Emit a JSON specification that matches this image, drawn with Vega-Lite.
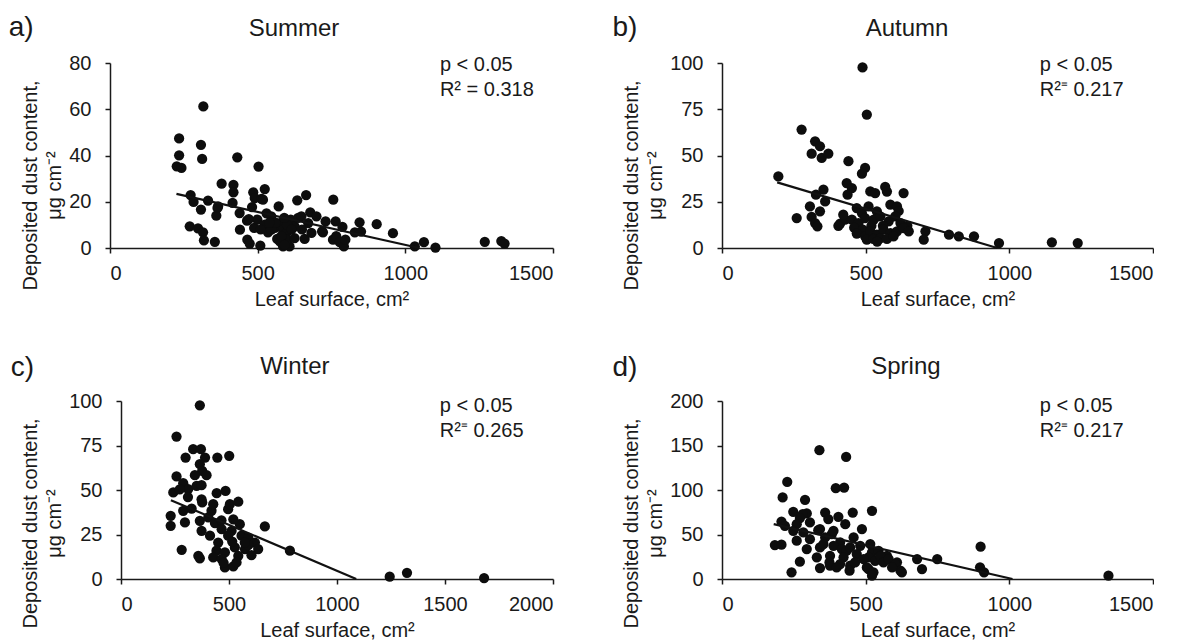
{
  "$schema": "https://vega.github.io/schema/vega-lite/v6.json",
  "background": "white",
  "padding": {"left": 8, "top": 14, "right": 0, "bottom": 0},
  "config": {
    "font": "Liberation Sans",
    "view": {"stroke": null},
    "axis": {
      "grid": false,
      "format": "d",
      "domainColor": "#1a1a1a",
      "domainWidth": 1.5,
      "tickColor": "#1a1a1a",
      "tickWidth": 1.5,
      "tickSize": 5,
      "labelFontSize": 20,
      "labelColor": "#1a1a1a",
      "labelFont": "Liberation Sans",
      "titleFont": "Liberation Sans",
      "titleFontSize": 20,
      "titleFontWeight": "normal",
      "titleColor": "#1a1a1a",
      "titleLineHeight": 24.5
    },
    "axisX": {"labelPadding": 10, "titlePadding": 6},
    "axisY": {"labelPadding": 14, "titlePadding": 4, "titleY": 122},
    "text": {"color": "#1a1a1a", "font": "Liberation Sans"}
  },
  "datasets": {
    "points": [
      {"season": "Summer", "leaf": 316, "dust": 61.2}, {"season": "Summer", "leaf": 234, "dust": 47.4}, {"season": "Summer", "leaf": 234, "dust": 40.1},
      {"season": "Summer", "leaf": 226, "dust": 35.3}, {"season": "Summer", "leaf": 242, "dust": 34.6}, {"season": "Summer", "leaf": 308, "dust": 44.6},
      {"season": "Summer", "leaf": 312, "dust": 38.5}, {"season": "Summer", "leaf": 431, "dust": 39.2}, {"season": "Summer", "leaf": 503, "dust": 35.2},
      {"season": "Summer", "leaf": 378, "dust": 27.8}, {"season": "Summer", "leaf": 418, "dust": 27.3}, {"season": "Summer", "leaf": 418, "dust": 24.1},
      {"season": "Summer", "leaf": 485, "dust": 24.1}, {"season": "Summer", "leaf": 524, "dust": 25.5}, {"season": "Summer", "leaf": 490, "dust": 21.6},
      {"season": "Summer", "leaf": 664, "dust": 22.9}, {"season": "Summer", "leaf": 756, "dust": 20.9}, {"season": "Summer", "leaf": 634, "dust": 20.6},
      {"season": "Summer", "leaf": 273, "dust": 22.9}, {"season": "Summer", "leaf": 283, "dust": 19.9}, {"season": "Summer", "leaf": 332, "dust": 20.5},
      {"season": "Summer", "leaf": 308, "dust": 16.6}, {"season": "Summer", "leaf": 360, "dust": 14.0}, {"season": "Summer", "leaf": 364, "dust": 17.3},
      {"season": "Summer", "leaf": 415, "dust": 19.5}, {"season": "Summer", "leaf": 439, "dust": 15.1}, {"season": "Summer", "leaf": 464, "dust": 11.8},
      {"season": "Summer", "leaf": 481, "dust": 17.7}, {"season": "Summer", "leaf": 513, "dust": 21.2}, {"season": "Summer", "leaf": 518, "dust": 20.9},
      {"season": "Summer", "leaf": 571, "dust": 18.0}, {"season": "Summer", "leaf": 546, "dust": 13.7}, {"season": "Summer", "leaf": 678, "dust": 15.4},
      {"season": "Summer", "leaf": 699, "dust": 13.7}, {"season": "Summer", "leaf": 730, "dust": 11.5}, {"season": "Summer", "leaf": 764, "dust": 11.5},
      {"season": "Summer", "leaf": 787, "dust": 9.1}, {"season": "Summer", "leaf": 845, "dust": 11.1}, {"season": "Summer", "leaf": 903, "dust": 10.3},
      {"season": "Summer", "leaf": 958, "dust": 6.4}, {"season": "Summer", "leaf": 829, "dust": 6.8}, {"season": "Summer", "leaf": 850, "dust": 7.1},
      {"season": "Summer", "leaf": 270, "dust": 9.4}, {"season": "Summer", "leaf": 298, "dust": 8.5}, {"season": "Summer", "leaf": 315, "dust": 6.8},
      {"season": "Summer", "leaf": 318, "dust": 3.3}, {"season": "Summer", "leaf": 355, "dust": 2.7}, {"season": "Summer", "leaf": 440, "dust": 7.9},
      {"season": "Summer", "leaf": 465, "dust": 3.6}, {"season": "Summer", "leaf": 473, "dust": 1.9}, {"season": "Summer", "leaf": 509, "dust": 1.0},
      {"season": "Summer", "leaf": 488, "dust": 8.7}, {"season": "Summer", "leaf": 499, "dust": 12.3}, {"season": "Summer", "leaf": 524, "dust": 10.1},
      {"season": "Summer", "leaf": 535, "dust": 6.8}, {"season": "Summer", "leaf": 558, "dust": 8.7}, {"season": "Summer", "leaf": 575, "dust": 10.8},
      {"season": "Summer", "leaf": 586, "dust": 7.9}, {"season": "Summer", "leaf": 597, "dust": 6.5}, {"season": "Summer", "leaf": 612, "dust": 12.3},
      {"season": "Summer", "leaf": 625, "dust": 9.4}, {"season": "Summer", "leaf": 637, "dust": 13.0}, {"season": "Summer", "leaf": 575, "dust": 2.9},
      {"season": "Summer", "leaf": 586, "dust": 0.7}, {"season": "Summer", "leaf": 608, "dust": 0.7}, {"season": "Summer", "leaf": 597, "dust": 3.6},
      {"season": "Summer", "leaf": 625, "dust": 4.3}, {"season": "Summer", "leaf": 659, "dust": 3.9}, {"season": "Summer", "leaf": 682, "dust": 6.5},
      {"season": "Summer", "leaf": 671, "dust": 10.8}, {"season": "Summer", "leaf": 721, "dust": 6.8}, {"season": "Summer", "leaf": 755, "dust": 3.6},
      {"season": "Summer", "leaf": 766, "dust": 5.1}, {"season": "Summer", "leaf": 778, "dust": 2.5}, {"season": "Summer", "leaf": 792, "dust": 0.7},
      {"season": "Summer", "leaf": 797, "dust": 3.6}, {"season": "Summer", "leaf": 1032, "dust": 0.7}, {"season": "Summer", "leaf": 1063, "dust": 2.5},
      {"season": "Summer", "leaf": 1102, "dust": 0.2}, {"season": "Summer", "leaf": 1269, "dust": 2.7}, {"season": "Summer", "leaf": 1325, "dust": 3.0},
      {"season": "Summer", "leaf": 1336, "dust": 1.9}, {"season": "Summer", "leaf": 546, "dust": 7.9}, {"season": "Summer", "leaf": 566, "dust": 3.9},
      {"season": "Summer", "leaf": 648, "dust": 13.7}, {"season": "Summer", "leaf": 366, "dust": 18.0}, {"season": "Summer", "leaf": 580, "dust": 5.1},
      {"season": "Summer", "leaf": 591, "dust": 1.4}, {"season": "Summer", "leaf": 718, "dust": 7.2}, {"season": "Summer", "leaf": 530, "dust": 15.0},
      {"season": "Summer", "leaf": 560, "dust": 11.0}, {"season": "Summer", "leaf": 600, "dust": 10.0}, {"season": "Summer", "leaf": 615, "dust": 8.0},
      {"season": "Summer", "leaf": 650, "dust": 8.0}, {"season": "Summer", "leaf": 590, "dust": 13.0}, {"season": "Summer", "leaf": 540, "dust": 11.0},
      {"season": "Summer", "leaf": 510, "dust": 8.0}, {"season": "Summer", "leaf": 470, "dust": 12.5},

      {"season": "Autumn", "leaf": 489, "dust": 97.6}, {"season": "Autumn", "leaf": 504, "dust": 72.1}, {"season": "Autumn", "leaf": 277, "dust": 64.0},
      {"season": "Autumn", "leaf": 324, "dust": 57.7}, {"season": "Autumn", "leaf": 341, "dust": 55.0}, {"season": "Autumn", "leaf": 312, "dust": 51.0},
      {"season": "Autumn", "leaf": 347, "dust": 48.7}, {"season": "Autumn", "leaf": 370, "dust": 51.0}, {"season": "Autumn", "leaf": 440, "dust": 46.9},
      {"season": "Autumn", "leaf": 498, "dust": 43.3}, {"season": "Autumn", "leaf": 487, "dust": 40.2}, {"season": "Autumn", "leaf": 196, "dust": 38.7},
      {"season": "Autumn", "leaf": 434, "dust": 35.1}, {"season": "Autumn", "leaf": 452, "dust": 32.4}, {"season": "Autumn", "leaf": 353, "dust": 31.5},
      {"season": "Autumn", "leaf": 327, "dust": 28.8}, {"season": "Autumn", "leaf": 437, "dust": 28.8}, {"season": "Autumn", "leaf": 516, "dust": 30.6},
      {"season": "Autumn", "leaf": 533, "dust": 29.7}, {"season": "Autumn", "leaf": 568, "dust": 33.0}, {"season": "Autumn", "leaf": 574, "dust": 30.5},
      {"season": "Autumn", "leaf": 632, "dust": 29.7}, {"season": "Autumn", "leaf": 359, "dust": 25.2}, {"season": "Autumn", "leaf": 306, "dust": 22.5},
      {"season": "Autumn", "leaf": 341, "dust": 19.8}, {"season": "Autumn", "leaf": 312, "dust": 16.8}, {"season": "Autumn", "leaf": 324, "dust": 13.5},
      {"season": "Autumn", "leaf": 332, "dust": 11.7}, {"season": "Autumn", "leaf": 260, "dust": 16.2}, {"season": "Autumn", "leaf": 411, "dust": 13.2},
      {"season": "Autumn", "leaf": 428, "dust": 15.3}, {"season": "Autumn", "leaf": 422, "dust": 18.0}, {"season": "Autumn", "leaf": 405, "dust": 12.0},
      {"season": "Autumn", "leaf": 469, "dust": 21.6}, {"season": "Autumn", "leaf": 487, "dust": 18.9}, {"season": "Autumn", "leaf": 510, "dust": 22.5},
      {"season": "Autumn", "leaf": 539, "dust": 19.8}, {"season": "Autumn", "leaf": 586, "dust": 23.4}, {"season": "Autumn", "leaf": 609, "dust": 22.5},
      {"season": "Autumn", "leaf": 615, "dust": 20.0}, {"season": "Autumn", "leaf": 452, "dust": 15.3}, {"season": "Autumn", "leaf": 475, "dust": 13.5},
      {"season": "Autumn", "leaf": 498, "dust": 16.2}, {"season": "Autumn", "leaf": 528, "dust": 15.3}, {"season": "Autumn", "leaf": 551, "dust": 17.1},
      {"season": "Autumn", "leaf": 580, "dust": 14.4}, {"season": "Autumn", "leaf": 603, "dust": 17.1}, {"season": "Autumn", "leaf": 621, "dust": 13.5},
      {"season": "Autumn", "leaf": 645, "dust": 12.0}, {"season": "Autumn", "leaf": 460, "dust": 11.0}, {"season": "Autumn", "leaf": 490, "dust": 10.0},
      {"season": "Autumn", "leaf": 520, "dust": 12.0}, {"season": "Autumn", "leaf": 560, "dust": 12.0}, {"season": "Autumn", "leaf": 469, "dust": 7.8},
      {"season": "Autumn", "leaf": 498, "dust": 6.3}, {"season": "Autumn", "leaf": 516, "dust": 9.0}, {"season": "Autumn", "leaf": 539, "dust": 7.2},
      {"season": "Autumn", "leaf": 562, "dust": 9.9}, {"season": "Autumn", "leaf": 586, "dust": 8.1}, {"season": "Autumn", "leaf": 609, "dust": 9.0},
      {"season": "Autumn", "leaf": 632, "dust": 10.8}, {"season": "Autumn", "leaf": 650, "dust": 9.0}, {"season": "Autumn", "leaf": 504, "dust": 4.5},
      {"season": "Autumn", "leaf": 527, "dust": 4.9}, {"season": "Autumn", "leaf": 551, "dust": 5.4}, {"season": "Autumn", "leaf": 574, "dust": 4.9},
      {"season": "Autumn", "leaf": 597, "dust": 6.3}, {"season": "Autumn", "leaf": 540, "dust": 3.5}, {"season": "Autumn", "leaf": 708, "dust": 9.0},
      {"season": "Autumn", "leaf": 702, "dust": 4.5}, {"season": "Autumn", "leaf": 790, "dust": 7.2}, {"season": "Autumn", "leaf": 824, "dust": 6.3},
      {"season": "Autumn", "leaf": 877, "dust": 6.3}, {"season": "Autumn", "leaf": 964, "dust": 2.7}, {"season": "Autumn", "leaf": 1148, "dust": 3.1},
      {"season": "Autumn", "leaf": 1238, "dust": 2.7},

      {"season": "Winter", "leaf": 365, "dust": 97.6}, {"season": "Winter", "leaf": 257, "dust": 80.0}, {"season": "Winter", "leaf": 334, "dust": 72.9},
      {"season": "Winter", "leaf": 370, "dust": 72.9}, {"season": "Winter", "leaf": 299, "dust": 68.2}, {"season": "Winter", "leaf": 389, "dust": 68.2},
      {"season": "Winter", "leaf": 446, "dust": 68.2}, {"season": "Winter", "leaf": 501, "dust": 69.2}, {"season": "Winter", "leaf": 365, "dust": 64.5},
      {"season": "Winter", "leaf": 376, "dust": 60.7}, {"season": "Winter", "leaf": 396, "dust": 58.3}, {"season": "Winter", "leaf": 342, "dust": 58.3},
      {"season": "Winter", "leaf": 257, "dust": 57.6}, {"season": "Winter", "leaf": 288, "dust": 53.8}, {"season": "Winter", "leaf": 311, "dust": 50.5},
      {"season": "Winter", "leaf": 242, "dust": 48.6}, {"season": "Winter", "leaf": 272, "dust": 50.4}, {"season": "Winter", "leaf": 350, "dust": 52.3},
      {"season": "Winter", "leaf": 373, "dust": 52.7}, {"season": "Winter", "leaf": 443, "dust": 48.2}, {"season": "Winter", "leaf": 484, "dust": 49.5},
      {"season": "Winter", "leaf": 373, "dust": 44.8}, {"season": "Winter", "leaf": 327, "dust": 39.6}, {"season": "Winter", "leaf": 288, "dust": 38.3},
      {"season": "Winter", "leaf": 376, "dust": 43.0}, {"season": "Winter", "leaf": 419, "dust": 38.3}, {"season": "Winter", "leaf": 427, "dust": 42.0},
      {"season": "Winter", "leaf": 496, "dust": 39.2}, {"season": "Winter", "leaf": 504, "dust": 42.0}, {"season": "Winter", "leaf": 543, "dust": 43.4},
      {"season": "Winter", "leaf": 230, "dust": 35.5}, {"season": "Winter", "leaf": 230, "dust": 29.9}, {"season": "Winter", "leaf": 296, "dust": 31.8},
      {"season": "Winter", "leaf": 365, "dust": 32.7}, {"season": "Winter", "leaf": 404, "dust": 34.6}, {"season": "Winter", "leaf": 435, "dust": 31.4},
      {"season": "Winter", "leaf": 373, "dust": 27.1}, {"season": "Winter", "leaf": 412, "dust": 24.3}, {"season": "Winter", "leaf": 466, "dust": 28.0},
      {"season": "Winter", "leaf": 512, "dust": 27.1}, {"season": "Winter", "leaf": 550, "dust": 30.8}, {"season": "Winter", "leaf": 666, "dust": 29.5},
      {"season": "Winter", "leaf": 496, "dust": 24.3}, {"season": "Winter", "leaf": 558, "dust": 24.3}, {"season": "Winter", "leaf": 589, "dust": 23.3},
      {"season": "Winter", "leaf": 620, "dust": 20.5}, {"season": "Winter", "leaf": 635, "dust": 16.8}, {"season": "Winter", "leaf": 450, "dust": 20.5},
      {"season": "Winter", "leaf": 442, "dust": 15.9}, {"season": "Winter", "leaf": 481, "dust": 14.9}, {"season": "Winter", "leaf": 527, "dust": 17.7},
      {"season": "Winter", "leaf": 574, "dust": 16.8}, {"season": "Winter", "leaf": 604, "dust": 13.4}, {"season": "Winter", "leaf": 543, "dust": 13.0},
      {"season": "Winter", "leaf": 281, "dust": 16.4}, {"season": "Winter", "leaf": 358, "dust": 13.0}, {"season": "Winter", "leaf": 365, "dust": 11.6},
      {"season": "Winter", "leaf": 427, "dust": 12.1}, {"season": "Winter", "leaf": 466, "dust": 11.2}, {"season": "Winter", "leaf": 481, "dust": 6.5},
      {"season": "Winter", "leaf": 520, "dust": 7.1}, {"season": "Winter", "leaf": 535, "dust": 9.3}, {"season": "Winter", "leaf": 475, "dust": 9.0},
      {"season": "Winter", "leaf": 589, "dust": 19.0}, {"season": "Winter", "leaf": 573, "dust": 20.5}, {"season": "Winter", "leaf": 515, "dust": 21.0},
      {"season": "Winter", "leaf": 465, "dust": 33.0}, {"season": "Winter", "leaf": 520, "dust": 33.5}, {"season": "Winter", "leaf": 310, "dust": 46.0},
      {"season": "Winter", "leaf": 782, "dust": 15.9}, {"season": "Winter", "leaf": 1244, "dust": 1.3}, {"season": "Winter", "leaf": 1324, "dust": 3.5},
      {"season": "Winter", "leaf": 1681, "dust": 0.5},

      {"season": "Spring", "leaf": 339, "dust": 144.7}, {"season": "Spring", "leaf": 432, "dust": 137.2}, {"season": "Spring", "leaf": 227, "dust": 109.1},
      {"season": "Spring", "leaf": 396, "dust": 102.0}, {"season": "Spring", "leaf": 425, "dust": 102.8}, {"season": "Spring", "leaf": 211, "dust": 91.6},
      {"season": "Spring", "leaf": 289, "dust": 89.0}, {"season": "Spring", "leaf": 522, "dust": 76.6}, {"season": "Spring", "leaf": 248, "dust": 75.5},
      {"season": "Spring", "leaf": 295, "dust": 73.6}, {"season": "Spring", "leaf": 281, "dust": 72.9}, {"season": "Spring", "leaf": 359, "dust": 74.7},
      {"season": "Spring", "leaf": 405, "dust": 69.9}, {"season": "Spring", "leaf": 455, "dust": 74.7}, {"season": "Spring", "leaf": 207, "dust": 64.6},
      {"season": "Spring", "leaf": 271, "dust": 68.4}, {"season": "Spring", "leaf": 306, "dust": 63.5}, {"season": "Spring", "leaf": 370, "dust": 67.3},
      {"season": "Spring", "leaf": 429, "dust": 61.6}, {"season": "Spring", "leaf": 487, "dust": 56.1}, {"season": "Spring", "leaf": 219, "dust": 59.8},
      {"season": "Spring", "leaf": 260, "dust": 61.6}, {"season": "Spring", "leaf": 184, "dust": 38.1}, {"season": "Spring", "leaf": 207, "dust": 38.5},
      {"season": "Spring", "leaf": 248, "dust": 54.2}, {"season": "Spring", "leaf": 283, "dust": 52.3}, {"season": "Spring", "leaf": 341, "dust": 56.1},
      {"season": "Spring", "leaf": 335, "dust": 54.9}, {"season": "Spring", "leaf": 382, "dust": 50.4}, {"season": "Spring", "leaf": 388, "dust": 54.2},
      {"season": "Spring", "leaf": 260, "dust": 43.0}, {"season": "Spring", "leaf": 306, "dust": 44.8}, {"season": "Spring", "leaf": 359, "dust": 46.7},
      {"season": "Spring", "leaf": 411, "dust": 41.1}, {"season": "Spring", "leaf": 458, "dust": 46.7}, {"season": "Spring", "leaf": 295, "dust": 33.6},
      {"season": "Spring", "leaf": 341, "dust": 35.5}, {"season": "Spring", "leaf": 353, "dust": 39.2}, {"season": "Spring", "leaf": 388, "dust": 37.3},
      {"season": "Spring", "leaf": 417, "dust": 33.6}, {"season": "Spring", "leaf": 434, "dust": 31.8}, {"season": "Spring", "leaf": 446, "dust": 35.5},
      {"season": "Spring", "leaf": 481, "dust": 37.3}, {"season": "Spring", "leaf": 516, "dust": 39.2}, {"season": "Spring", "leaf": 522, "dust": 29.9},
      {"season": "Spring", "leaf": 545, "dust": 31.7}, {"season": "Spring", "leaf": 330, "dust": 24.3}, {"season": "Spring", "leaf": 376, "dust": 26.1},
      {"season": "Spring", "leaf": 423, "dust": 24.3}, {"season": "Spring", "leaf": 469, "dust": 28.0}, {"season": "Spring", "leaf": 574, "dust": 26.1},
      {"season": "Spring", "leaf": 510, "dust": 24.3}, {"season": "Spring", "leaf": 271, "dust": 19.4}, {"season": "Spring", "leaf": 374, "dust": 18.6},
      {"season": "Spring", "leaf": 411, "dust": 16.8}, {"season": "Spring", "leaf": 493, "dust": 22.4}, {"season": "Spring", "leaf": 533, "dust": 20.5},
      {"season": "Spring", "leaf": 551, "dust": 26.1}, {"season": "Spring", "leaf": 562, "dust": 18.7}, {"season": "Spring", "leaf": 609, "dust": 18.7},
      {"season": "Spring", "leaf": 242, "dust": 7.5}, {"season": "Spring", "leaf": 341, "dust": 12.3}, {"season": "Spring", "leaf": 376, "dust": 14.9},
      {"season": "Spring", "leaf": 399, "dust": 13.0}, {"season": "Spring", "leaf": 446, "dust": 14.9}, {"season": "Spring", "leaf": 444, "dust": 9.3},
      {"season": "Spring", "leaf": 463, "dust": 18.6}, {"season": "Spring", "leaf": 504, "dust": 13.0}, {"season": "Spring", "leaf": 510, "dust": 11.2},
      {"season": "Spring", "leaf": 527, "dust": 7.5}, {"season": "Spring", "leaf": 522, "dust": 3.7}, {"season": "Spring", "leaf": 580, "dust": 22.4},
      {"season": "Spring", "leaf": 603, "dust": 16.8}, {"season": "Spring", "leaf": 621, "dust": 9.3}, {"season": "Spring", "leaf": 626, "dust": 7.5},
      {"season": "Spring", "leaf": 592, "dust": 13.0}, {"season": "Spring", "leaf": 679, "dust": 22.4}, {"season": "Spring", "leaf": 696, "dust": 11.2},
      {"season": "Spring", "leaf": 749, "dust": 22.4}, {"season": "Spring", "leaf": 900, "dust": 36.3}, {"season": "Spring", "leaf": 898, "dust": 13.1},
      {"season": "Spring", "leaf": 912, "dust": 7.5}, {"season": "Spring", "leaf": 1345, "dust": 3.7}
    ],
    "fits": [
      {"season": "Summer", "leaf": 225, "dust": 23.4}, {"season": "Summer", "leaf": 1047, "dust": 0},
      {"season": "Autumn", "leaf": 192, "dust": 35.5}, {"season": "Autumn", "leaf": 958, "dust": 0},
      {"season": "Winter", "leaf": 231, "dust": 44.3}, {"season": "Winter", "leaf": 1089, "dust": 0},
      {"season": "Spring", "leaf": 180, "dust": 61.6}, {"season": "Spring", "leaf": 1011, "dust": 0}
    ],
    "panels": [
      {"season": "Summer", "letter": "a)", "stats": "p < 0.05\nR² = 0.318"},
      {"season": "Autumn", "letter": "b)", "stats": "p < 0.05\nR²⁼ 0.217"},
      {"season": "Winter", "letter": "c)", "stats": "p < 0.05\nR²⁼ 0.265"},
      {"season": "Spring", "letter": "d)", "stats": "p < 0.05\nR²⁼ 0.217"}
    ]
  },
  "vconcat": [
    {
      "bounds": "flush",
      "spacing": 169,
      "hconcat": [
        {
          "width": 443, "height": 185,
          "layer": [
            {
              "data": {"name": "points"},
              "transform": [{"filter": {"field": "season", "equal": "Summer"}}],
              "mark": {"type": "circle", "size": 105, "color": "#0d0d0d", "opacity": 1},
              "encoding": {
                "x": {"field": "leaf", "type": "quantitative", "scale": {"domain": [0, 1500], "nice": false},
                      "axis": {"values": [0, 500, 1000, 1500], "title": "Leaf surface, cm²"}},
                "y": {"field": "dust", "type": "quantitative", "scale": {"domain": [0, 80], "nice": false},
                      "axis": {"values": [0, 20, 40, 60, 80], "title": ["Deposited dust content,", "μg cm⁻²"]}}
              }
            },
            {
              "data": {"name": "fits"},
              "transform": [{"filter": {"field": "season", "equal": "Summer"}}],
              "mark": {"type": "line", "color": "#111111", "strokeWidth": 2.2},
              "encoding": {"x": {"field": "leaf", "type": "quantitative"}, "y": {"field": "dust", "type": "quantitative"}}
            },
            {
              "data": {"name": "panels"},
              "transform": [{"filter": {"field": "season", "equal": "Summer"}}],
              "mark": {"type": "text", "align": "left", "baseline": "alphabetic", "fontSize": 20, "lineBreak": "\n", "lineHeight": 25},
              "encoding": {"x": {"datum": 1117}, "y": {"datum": 76.4}, "text": {"field": "stats"}}
            },
            {
              "data": {"name": "panels"},
              "transform": [{"filter": {"field": "season", "equal": "Summer"}}],
              "mark": {"type": "text", "align": "center", "baseline": "alphabetic", "fontSize": 24},
              "encoding": {"x": {"datum": 623}, "y": {"datum": 91.8}, "text": {"field": "season"}}
            },
            {
              "data": {"name": "panels"},
              "transform": [{"filter": {"field": "season", "equal": "Summer"}}],
              "mark": {"type": "text", "align": "center", "baseline": "alphabetic", "fontSize": 28},
              "encoding": {"x": {"datum": -301}, "y": {"datum": 91.5}, "text": {"field": "letter"}}
            }
          ]
        },
        {
          "width": 431, "height": 185,
          "layer": [
            {
              "data": {"name": "points"},
              "transform": [{"filter": {"field": "season", "equal": "Autumn"}}],
              "mark": {"type": "circle", "size": 105, "color": "#0d0d0d", "opacity": 1},
              "encoding": {
                "x": {"field": "leaf", "type": "quantitative", "scale": {"domain": [0, 1500], "nice": false},
                      "axis": {"values": [0, 500, 1000, 1500], "title": "Leaf surface, cm²"}},
                "y": {"field": "dust", "type": "quantitative", "scale": {"domain": [0, 100], "nice": false},
                      "axis": {"values": [0, 25, 50, 75, 100], "title": ["Deposited dust content,", "μg cm⁻²"]}}
              }
            },
            {
              "data": {"name": "fits"},
              "transform": [{"filter": {"field": "season", "equal": "Autumn"}}],
              "mark": {"type": "line", "color": "#111111", "strokeWidth": 2.2},
              "encoding": {"x": {"field": "leaf", "type": "quantitative"}, "y": {"field": "dust", "type": "quantitative"}}
            },
            {
              "data": {"name": "panels"},
              "transform": [{"filter": {"field": "season", "equal": "Autumn"}}],
              "mark": {"type": "text", "align": "left", "baseline": "alphabetic", "fontSize": 20, "lineBreak": "\n", "lineHeight": 25},
              "encoding": {"x": {"datum": 1106}, "y": {"datum": 95.5}, "text": {"field": "stats"}}
            },
            {
              "data": {"name": "panels"},
              "transform": [{"filter": {"field": "season", "equal": "Autumn"}}],
              "mark": {"type": "text", "align": "center", "baseline": "alphabetic", "fontSize": 24},
              "encoding": {"x": {"datum": 644}, "y": {"datum": 114.8}, "text": {"field": "season"}}
            },
            {
              "data": {"name": "panels"},
              "transform": [{"filter": {"field": "season", "equal": "Autumn"}}],
              "mark": {"type": "text", "align": "center", "baseline": "alphabetic", "fontSize": 28},
              "encoding": {"x": {"datum": -338}, "y": {"datum": 114.4}, "text": {"field": "letter"}}
            }
          ]
        }
      ]
    },
    {
      "bounds": "flush",
      "spacing": 169,
      "hconcat": [
        {
          "width": 443, "height": 178,
          "layer": [
            {
              "data": {"name": "points"},
              "transform": [{"filter": {"field": "season", "equal": "Winter"}}],
              "mark": {"type": "circle", "size": 105, "color": "#0d0d0d", "opacity": 1},
              "encoding": {
                "x": {"field": "leaf", "type": "quantitative", "scale": {"domain": [0, 2000], "nice": false, "range": [11, 443]},
                      "axis": {"values": [0, 500, 1000, 1500, 2000], "title": "Leaf surface, cm²"}},
                "y": {"field": "dust", "type": "quantitative", "scale": {"domain": [0, 100], "nice": false},
                      "axis": {"values": [0, 25, 50, 75, 100], "offset": -11, "title": ["Deposited dust content,", "μg cm⁻²"]}}
              }
            },
            {
              "data": {"name": "fits"},
              "transform": [{"filter": {"field": "season", "equal": "Winter"}}],
              "mark": {"type": "line", "color": "#111111", "strokeWidth": 2.2},
              "encoding": {"x": {"field": "leaf", "type": "quantitative"}, "y": {"field": "dust", "type": "quantitative"}}
            },
            {
              "data": {"name": "panels"},
              "transform": [{"filter": {"field": "season", "equal": "Winter"}}],
              "mark": {"type": "text", "align": "left", "baseline": "alphabetic", "fontSize": 20, "lineBreak": "\n", "lineHeight": 25},
              "encoding": {"x": {"datum": 1476}, "y": {"datum": 93.8}, "text": {"field": "stats"}}
            },
            {
              "data": {"name": "panels"},
              "transform": [{"filter": {"field": "season", "equal": "Winter"}}],
              "mark": {"type": "text", "align": "center", "baseline": "alphabetic", "fontSize": 24},
              "encoding": {"x": {"datum": 805}, "y": {"datum": 115.1}, "text": {"field": "season"}}
            },
            {
              "data": {"name": "panels"},
              "transform": [{"filter": {"field": "season", "equal": "Winter"}}],
              "mark": {"type": "text", "align": "center", "baseline": "alphabetic", "fontSize": 28},
              "encoding": {"x": {"datum": -457}, "y": {"datum": 114}, "text": {"field": "letter"}}
            }
          ]
        },
        {
          "width": 431, "height": 178,
          "layer": [
            {
              "data": {"name": "points"},
              "transform": [{"filter": {"field": "season", "equal": "Spring"}}],
              "mark": {"type": "circle", "size": 105, "color": "#0d0d0d", "opacity": 1},
              "encoding": {
                "x": {"field": "leaf", "type": "quantitative", "scale": {"domain": [0, 1500], "nice": false},
                      "axis": {"values": [0, 500, 1000, 1500], "title": "Leaf surface, cm²"}},
                "y": {"field": "dust", "type": "quantitative", "scale": {"domain": [0, 200], "nice": false},
                      "axis": {"values": [0, 50, 100, 150, 200], "title": ["Deposited dust content,", "μg cm⁻²"]}}
              }
            },
            {
              "data": {"name": "fits"},
              "transform": [{"filter": {"field": "season", "equal": "Spring"}}],
              "mark": {"type": "line", "color": "#111111", "strokeWidth": 2.2},
              "encoding": {"x": {"field": "leaf", "type": "quantitative"}, "y": {"field": "dust", "type": "quantitative"}}
            },
            {
              "data": {"name": "panels"},
              "transform": [{"filter": {"field": "season", "equal": "Spring"}}],
              "mark": {"type": "text", "align": "left", "baseline": "alphabetic", "fontSize": 20, "lineBreak": "\n", "lineHeight": 25},
              "encoding": {"x": {"datum": 1106}, "y": {"datum": 187.7}, "text": {"field": "stats"}}
            },
            {
              "data": {"name": "panels"},
              "transform": [{"filter": {"field": "season", "equal": "Spring"}}],
              "mark": {"type": "text", "align": "center", "baseline": "alphabetic", "fontSize": 24},
              "encoding": {"x": {"datum": 640}, "y": {"datum": 230.3}, "text": {"field": "season"}}
            },
            {
              "data": {"name": "panels"},
              "transform": [{"filter": {"field": "season", "equal": "Spring"}}],
              "mark": {"type": "text", "align": "center", "baseline": "alphabetic", "fontSize": 28},
              "encoding": {"x": {"datum": -338}, "y": {"datum": 228}, "text": {"field": "letter"}}
            }
          ]
        }
      ]
    }
  ],
  "spacing": 45
}
